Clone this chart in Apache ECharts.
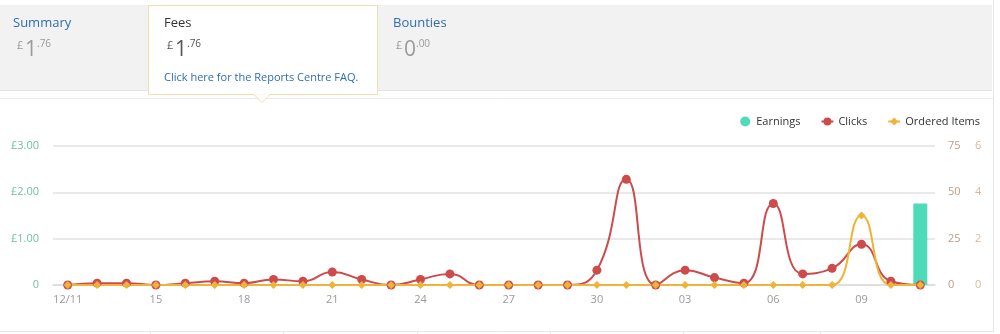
<!DOCTYPE html>
<html><head><meta charset="utf-8">
<script src="https://cdn.jsdelivr.net/npm/echarts@6/dist/echarts.min.js"></script>
<style>html,body{margin:0;padding:0;background:#fff}#c{width:1000px;height:334px}</style>
</head><body><div id="c"></div>
<script>
const categories = ['12/11','13','14','15','16','17','18','19','20','21','22','23','24','25','26','27','28','29','30','01','02','03','04','05','06','07','08','09','10','11'];
const earnings = [0,0,0,0,0,0,0,0,0,0,0,0,0,0,0,0,0,0,0,0,0,0,0,0,0,0,0,0,0,1.76];
const clicks = [0,1,1,0,1,2,1,3,2,7,3,0,3,6,0,0,0,0,8,57,0,8,4,1,44,6,9,22,2,0];
const orderedItems = [0,0,0,0,0,0,0,0,0,0,0,0,0,0,0,0,0,0,0,0,0,0,0,0,0,0,0,3,0,0];
const earningsTicks = ['0','£1.00','£2.00','£3.00'];
const clicksTicks = ['0','25','50','75'];
const itemsTicks = ['0','2','4','6'];
const tabNames = ['Summary','Fees','Bounties'];
const tabWhole = ['1','1','0'];
const tabDecimals = ['.76','.76','.00'];
const faqText = 'Click here for the Reports Centre FAQ.';

const FF = "'Open Sans', 'Noto Sans', sans-serif";
const tabX = [13, 164, 393];
const tabTitleColor = ['#2f6db5', '#333333', '#2f6db5'];
const priceColor = ['#9a9a9a', '#555555', '#9a9a9a'];

const graphic = [];
graphic.push({type:'rect', z:-5, shape:{x:0,y:5,width:992,height:85}, style:{fill:'#f2f2f2'}});
graphic.push({type:'line', z:-4, shape:{x1:0,y1:90.5,x2:992,y2:90.5}, style:{stroke:'#e4e4e4',lineWidth:1}});
graphic.push({type:'line', z:-4, shape:{x1:0,y1:98.5,x2:993,y2:98.5}, style:{stroke:'#ececec',lineWidth:1}});
graphic.push({type:'line', z:-4, shape:{x1:993.5,y1:0,x2:993.5,y2:332}, style:{stroke:'#e6e6e6',lineWidth:1}});
graphic.push({type:'line', z:-4, shape:{x1:0,y1:331.5,x2:993,y2:331.5}, style:{stroke:'#e6e6e6',lineWidth:1}});
[150,283,417,550,683,820].forEach(function(x){
  graphic.push({type:'line', z:-4, shape:{x1:x+0.5,y1:332,x2:x+0.5,y2:334}, style:{stroke:'#e6e6e6',lineWidth:1}});
});
// Fees box
graphic.push({type:'rect', z:-3, shape:{x:148.5,y:5.5,width:229,height:89}, style:{fill:'#ffffff', stroke:'#f3dcae', lineWidth:1}});
graphic.push({type:'polyline', z:-2, shape:{points:[[254,94.5],[262,102.5],[270,94.5]]}, style:{stroke:'#f3dcae', fill:'#ffffff', lineWidth:1}});
graphic.push({type:'rect', z:-2, shape:{x:254.5,y:93,width:15,height:1.5}, style:{fill:'#ffffff'}});

tabNames.forEach(function(name, i){
  const x = tabX[i];
  graphic.push({type:'text', x:x, y:23, style:{text:name, fill:tabTitleColor[i], fontSize:13, fontFamily:FF, align:'left', verticalAlign:'middle'}});
  const px = x + (i === 0 ? 4 : 3);
  graphic.push({type:'text', x:px, y:46, style:{text:'£', fill:priceColor[i], fontSize:11, fontFamily:FF, align:'left', verticalAlign:'middle'}});
  graphic.push({type:'text', x:px+8, y:50, style:{text:tabWhole[i], fill:priceColor[i], fontSize:21, fontFamily:FF, align:'left', verticalAlign:'middle'}});
  graphic.push({type:'text', x:px+20, y:44, style:{text:tabDecimals[i], fill:priceColor[i], fontSize:10, fontFamily:FF, align:'left', verticalAlign:'middle'}});
});
graphic.push({type:'text', x:164, y:78, style:{text:faqText, fill:'#2f6db5', fontSize:11, fontFamily:FF, align:'left', verticalAlign:'middle'}});

const chart = echarts.init(document.getElementById('c'), null, {renderer:'canvas'});
chart.setOption({
  animation:false,
  backgroundColor:'#ffffff',
  textStyle:{fontFamily:FF},
  graphic: graphic,
  legend:{
    right:15, top:111, itemWidth:12, itemHeight:10, itemGap:20,
    textStyle:{fontSize:11, color:'#333333', fontFamily:FF},
    data:[{name:'Earnings', icon:'circle'}, {name:'Clicks'}, {name:'Ordered Items'}]
  },
  grid:{left:53, right:65, top:146, bottom:49, containLabel:false},
  xAxis:{
    type:'category', data:categories, boundaryGap:true,
    axisLine:{show:true, lineStyle:{color:'#dcdcdc', width:1.5}},
    axisTick:{show:false},
    axisLabel:{interval:2, color:'#9a9a9a', fontSize:11, margin:9, fontFamily:FF}
  },
  yAxis:[
    {type:'value', min:0, max:3, interval:1, position:'left',
     axisLine:{show:false}, axisTick:{show:false},
     splitLine:{show:true, lineStyle:{color:'#e2e2e2', width:1.5}},
     axisLabel:{color:'#72c1a6', fontSize:11, margin:14, fontFamily:FF, formatter:function(v){return earningsTicks[Math.round(v)];}}},
    {type:'value', min:0, max:75, interval:25, position:'right',
     axisLine:{show:false}, axisTick:{show:false}, splitLine:{show:false},
     axisLabel:{color:'#bb9c8c', fontSize:11, margin:13, fontFamily:FF, formatter:function(v){return clicksTicks[Math.round(v/25)];}}},
    {type:'value', min:0, max:6, interval:2, position:'right', offset:27,
     axisLine:{show:false}, axisTick:{show:false}, splitLine:{show:false},
     axisLabel:{color:'#d6b9a2', fontSize:11, margin:13, fontFamily:FF, formatter:function(v){return itemsTicks[Math.round(v/2)];}}}
  ],
  series:[
    {name:'Earnings', type:'bar', yAxisIndex:0, data:earnings, barWidth:14,
     itemStyle:{color:'#4fdbba'}},
    {name:'Clicks', type:'line', yAxisIndex:1, data:clicks, smooth:0.5,
     symbol:'circle', symbolSize:9, lineStyle:{color:'#cd4b4b', width:2},
     itemStyle:{color:'#cd4b4b'}},
    {name:'Ordered Items', type:'line', yAxisIndex:2, data:orderedItems, smooth:0.5,
     symbol:'diamond', symbolSize:8, lineStyle:{color:'#efb437', width:2},
     itemStyle:{color:'#efb437'}}
  ]
});
</script>
</body></html>
